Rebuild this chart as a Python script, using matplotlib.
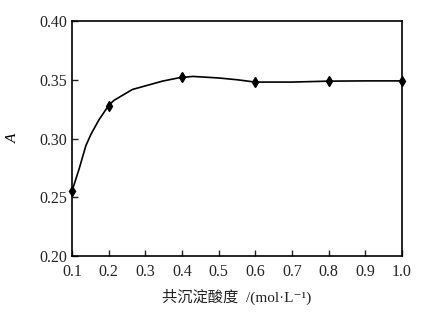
import matplotlib
matplotlib.use("Agg")
import matplotlib.pyplot as plt

# measured points
acidity = [0.1, 0.2, 0.4, 0.6, 0.8, 1.0]
absorb = [0.255, 0.328, 0.352, 0.348, 0.349, 0.349]

# smooth curve as drawn in the figure
curve_x = [0.1, 0.12, 0.138, 0.152, 0.174, 0.2, 0.215, 0.265, 0.347, 0.393,
           0.43, 0.5, 0.55, 0.6, 0.7, 0.8, 0.9, 1.0]
curve_y = [0.255, 0.2744, 0.2938, 0.3036, 0.316, 0.328, 0.3325, 0.3417, 0.3488, 0.3517,
           0.3528, 0.3515, 0.350, 0.348, 0.348, 0.3488, 0.349, 0.349]

xticks = [0.1, 0.2, 0.3, 0.4, 0.5, 0.6, 0.7, 0.8, 0.9, 1.0]
yticks = [0.20, 0.25, 0.30, 0.35, 0.40]

plt.rcParams['font.family'] = ['Liberation Serif', 'Noto Sans CJK SC', 'DejaVu Sans']

fig = plt.figure(figsize=(4.33, 3.17), dpi=100)
ax = fig.add_axes([0.166, 0.192, 0.762, 0.742])

ax.plot(curve_x, curve_y, color='black', lw=1.2)
ax.plot(acidity, absorb, linestyle='none', marker='d', color='black', ms=5, clip_on=False)

ax.set_xlim(0.1, 1.0)
ax.set_ylim(0.20, 0.40)
ax.set_xticks(xticks)
ax.set_xticklabels(['%.1f' % v for v in xticks])
ax.set_yticks(yticks)
ax.set_yticklabels(['%.2f' % v for v in yticks])
ax.tick_params(direction='in', length=4, width=1, labelsize=11.5, colors='#222222')
ax.tick_params(axis='x', pad=6)
for s in ax.spines.values():
    s.set_linewidth(1.2)

ax.set_ylabel('A', style='italic', fontsize=11, labelpad=14)
ax.set_xlabel('共沉淀酸度  /(mol·L⁻¹)', fontsize=11, labelpad=6, color='#222222')

fig.savefig('out.png', dpi=100, facecolor='white')
